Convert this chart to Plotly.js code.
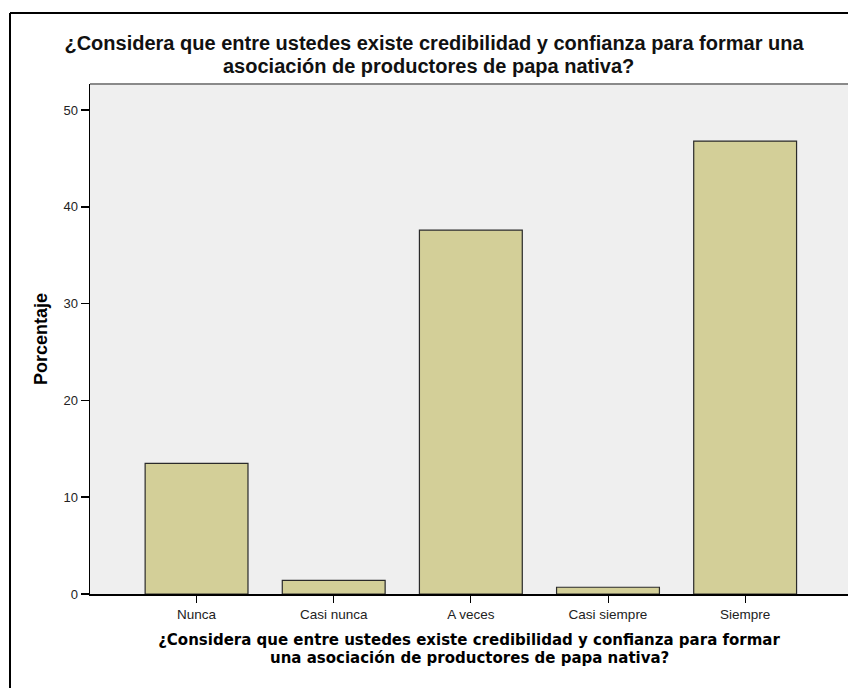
<!DOCTYPE html>
<html>
<head>
<meta charset="utf-8">
<script src="https://cdn.plot.ly/plotly-3.0.1.min.js"></script>
<style>
html,body{margin:0;padding:0;background:#fff;}
#chart{width:848px;height:688px;}
</style>
</head>
<body>
<div id="chart"></div>
<script>
const categories = ["Nunca", "Casi nunca", "A veces", "Casi siempre", "Siempre"];
const percentages = [13.5, 1.4, 37.6, 0.7, 46.8];
const yTicks = [0, 10, 20, 30, 40, 50];
const titleLines = ["¿Considera que entre ustedes existe credibilidad y confianza para formar una",
                    "asociación de productores de papa nativa?"];
const xTitleLines = ["¿Considera que entre ustedes existe credibilidad y confianza para formar",
                     "una asociación de productores de papa nativa?"];
const yTitle = "Porcentaje";

const W = 848, H = 688;
const L = 90, R = 0, T = 84, B = 94;
const pw = W - L - R, ph = H - T - B;
const px = v => (v - L) / pw;
const py = v => (H - B - v) / ph;

const trace = {
  type: "bar",
  x: categories.map((c, i) => i),
  y: percentages,
  marker: { color: "#d3cf98", line: { color: "#2a2a2a", width: 1.2 } },
  hoverinfo: "x+y"
};

const titleFont = { family: "'Liberation Sans', Arial, sans-serif", size: 20, weight: "bold", color: "#111" };
const xTitleFont = { family: "'DejaVu Sans', Verdana, sans-serif", size: 15, weight: "bold", color: "#000" };

const layout = {
  width: W, height: H,
  margin: { l: L, r: R, t: T, b: B, pad: 0 },
  paper_bgcolor: "#ffffff",
  plot_bgcolor: "#efefef",
  bargap: 0.25,
  showlegend: false,
  font: { family: "Arial, 'Liberation Sans', sans-serif", color: "#000" },
  title: {
    text: titleLines[0],
    font: titleFont,
    x: 434 / W, xref: "container", xanchor: "center",
    y: 1 - 43 / H, yref: "container", yanchor: "middle"
  },
  xaxis: {
    range: [-0.777, 4.75],
    tickmode: "array",
    tickvals: categories.map((c, i) => i),
    ticktext: categories,
    ticks: "outside", ticklen: 7, tickwidth: 1, tickcolor: "#000",
    tickfont: { family: "Arial, 'Liberation Sans', sans-serif", size: 13.5, color: "#222" },
    showline: true, linecolor: "#000", linewidth: 1.5,
    showgrid: false, zeroline: false,
    title: { text: xTitleLines[0], font: xTitleFont, standoff: 14 }
  },
  yaxis: {
    range: [0, 52.7],
    tickmode: "array",
    tickvals: yTicks,
    ticktext: yTicks.map(String),
    ticks: "outside", ticklen: 8, tickwidth: 1.5, tickcolor: "#000",
    tickfont: { family: "Arial, 'Liberation Sans', sans-serif", size: 13, color: "#222" },
    showline: true, linecolor: "#000", linewidth: 1.5,
    showgrid: false, zeroline: false,
    title: {
      text: yTitle,
      font: { family: "'Liberation Sans', Arial, sans-serif", size: 18, weight: "bold", color: "#000" },
      standoff: 11
    }
  },
  annotations: [
    { text: titleLines[1], font: titleFont, showarrow: false,
      xref: "paper", yref: "paper", x: px(428), y: py(66), xanchor: "center", yanchor: "middle" },
    { text: xTitleLines[1], font: xTitleFont, showarrow: false,
      xref: "paper", yref: "paper", x: 0.5, y: py(658), xanchor: "center", yanchor: "middle" }
  ],
  shapes: [
    { type: "line", xref: "paper", yref: "paper", x0: 0, x1: 1, y0: 1, y1: 1,
      line: { color: "#8a8a8a", width: 2 } },
    { type: "line", xref: "paper", yref: "paper", x0: px(10), x1: px(10), y0: py(13), y1: py(690),
      line: { color: "#000", width: 2 } },
    { type: "line", xref: "paper", yref: "paper", x0: px(10), x1: px(850), y0: py(13), y1: py(13),
      line: { color: "#000", width: 2 } }
  ]
};

Plotly.newPlot("chart", [trace], layout, { displayModeBar: false, staticPlot: true });
</script>
</body>
</html>
